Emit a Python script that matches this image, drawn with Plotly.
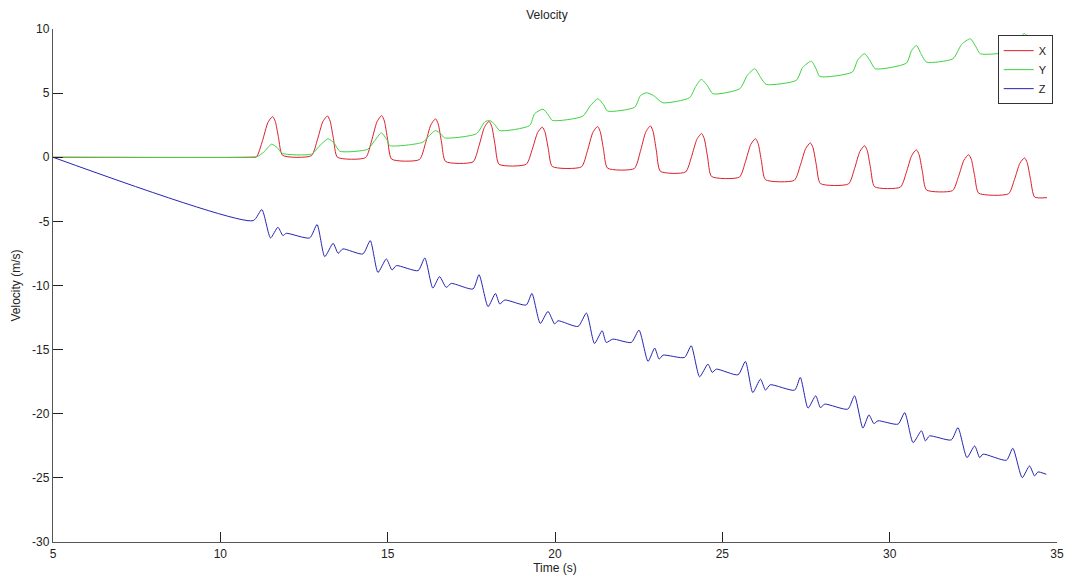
import plotly.graph_objects as go

# ---------------- data ----------------
x_time = [5, 10.90,
          11.08, 11.26, 11.42, 11.56, 11.64, 11.74, 11.86,
          12.72, 12.90, 13.06, 13.20, 13.28, 13.38, 13.50,
          14.34, 14.52, 14.68, 14.82, 14.90, 15.00, 15.12,
          15.95, 16.13, 16.29, 16.43, 16.51, 16.61, 16.73,
          17.55, 17.73, 17.89, 18.03, 18.11, 18.21, 18.33,
          19.14, 19.32, 19.48, 19.62, 19.70, 19.80, 19.92,
          20.79, 20.97, 21.13, 21.27, 21.35, 21.45, 21.57,
          22.37, 22.55, 22.71, 22.85, 22.93, 23.03, 23.15,
          23.90, 24.08, 24.24, 24.38, 24.46, 24.56, 24.68,
          25.51, 25.69, 25.85, 25.99, 26.07, 26.17, 26.29,
          27.15, 27.33, 27.49, 27.63, 27.71, 27.81, 27.93,
          28.77, 28.95, 29.11, 29.25, 29.33, 29.43, 29.55,
          30.32, 30.50, 30.66, 30.80, 30.88, 30.98, 31.10,
          31.88, 32.06, 32.22, 32.36, 32.44, 32.54, 32.66,
          33.55, 33.73, 33.89, 34.03, 34.11, 34.21, 34.33, 34.70]
x_vel = [0, 0,
         0.03, 1.29, 2.70, 3.17, 2.81, 1.51, 0.15,
         0.12, 1.36, 2.76, 3.22, 2.83, 1.45, 0.0,
         -0.03, 1.28, 2.76, 3.25, 2.84, 1.38, -0.15,
         -0.18, 1.09, 2.52, 3.00, 2.60, 1.17, -0.33,
         -0.36, 0.90, 2.33, 2.80, 2.40, 0.96, -0.55,
         -0.55, 0.61, 1.92, 2.35, 1.98, 0.66, -0.72,
         -0.75, 0.51, 1.93, 2.40, 2.01, 0.61, -0.85,
         -0.88, 0.45, 1.95, 2.45, 2.02, 0.50, -1.10,
         -1.15, 0.05, 1.40, 1.85, 1.45, 0.01, -1.50,
         -1.55, -0.35, 1.00, 1.45, 1.07, -0.31, -1.75,
         -1.80, -0.63, 0.68, 1.12, 0.74, -0.62, -2.05,
         -2.08, -0.89, 0.45, 0.90, 0.52, -0.86, -2.30,
         -2.33, -1.17, 0.14, 0.58, 0.20, -1.14, -2.55,
         -2.60, -1.48, -0.22, 0.20, -0.16, -1.45, -2.80,
         -2.85, -1.73, -0.47, -0.05, -0.42, -1.73, -3.10, -3.15]

y_time = [5, 10.85,
          11.10, 11.30, 11.53, 11.70, 11.85,
          12.73, 12.95, 13.22, 13.40, 13.57,
          14.40, 14.60, 14.81, 14.98, 15.06,
          16.05, 16.25, 16.43, 16.58, 16.70,
          17.65, 17.90, 18.05, 18.20, 18.35,
          19.24, 19.39, 19.64, 19.80, 19.92,
          20.83, 21.05, 21.28, 21.45, 21.57,
          22.38, 22.55, 22.73, 22.95, 23.22,
          24.02, 24.20, 24.37, 24.55, 24.72,
          25.52, 25.75, 25.97, 26.15, 26.31,
          27.21, 27.40, 27.66, 27.80, 27.91,
          28.88, 29.05, 29.25, 29.42, 29.57,
          30.50, 30.65, 30.80, 30.95, 31.10,
          31.89, 32.15, 32.41, 32.58, 32.71,
          33.66, 33.85, 34.03, 34.20, 34.33, 34.70]
y_vel = [0, 0,
         0.05, 0.4, 1.02, 0.75, 0.3,
         0.25, 0.85, 1.44, 1.1, 0.47,
         0.62, 1.25, 1.90, 1.35, 0.91,
         1.17, 1.7, 2.08, 1.85, 1.51,
         1.83, 2.75, 2.87, 2.55, 2.08,
         2.47, 3.39, 3.75, 3.3, 2.87,
         3.2, 4.0, 4.56, 4.1, 3.6,
         3.9, 4.8, 5.03, 4.8, 4.25,
         4.64, 5.5, 6.07, 5.6, 4.95,
         5.34, 6.4, 6.9, 6.2, 5.68,
         6.0, 7.0, 7.49, 6.9, 6.3,
         6.64, 7.6, 8.07, 7.5, 6.9,
         7.34, 8.3, 8.72, 8.0, 7.42,
         7.68, 8.8, 9.24, 8.6, 8.07,
         8.3, 9.2, 9.65, 9.0, 8.6, 8.7]

z_time = [5, 10.98,
          11.24, 11.50, 11.72, 11.87, 11.97, 12.67,
          12.89, 13.12, 13.37, 13.52, 13.66, 14.26,
          14.48, 14.71, 14.96, 15.13, 15.26, 15.91,
          16.11, 16.35, 16.55, 16.75, 16.90, 17.55,
          17.73, 18.00, 18.22, 18.35, 18.50, 19.14,
          19.31, 19.56, 19.79, 19.99, 20.09, 20.69,
          20.94, 21.18, 21.41, 21.53, 21.73, 22.28,
          22.51, 22.78, 22.98, 23.11, 23.23, 23.87,
          24.07, 24.32, 24.57, 24.70, 24.82, 25.47,
          25.69, 25.91, 26.14, 26.29, 26.43, 27.16,
          27.33, 27.56, 27.79, 27.93, 28.06, 28.75,
          28.95, 29.20, 29.38, 29.53, 29.65, 30.25,
          30.45, 30.70, 30.95, 31.07, 31.19, 31.84,
          32.04, 32.31, 32.54, 32.69, 32.79, 33.49,
          33.68, 33.96, 34.18, 34.33, 34.43, 34.68]
z_vel = [0, -4.94,
         -4.08, -6.29, -5.46, -6.11, -5.93, -6.29,
         -5.25, -7.75, -6.71, -7.49, -7.15, -7.54,
         -6.50, -8.98, -7.93, -8.79, -8.45, -8.84,
         -7.85, -10.2, -9.31, -10.15, -9.84, -10.27,
         -9.16, -11.65, -10.62, -11.44, -11.13, -11.52,
         -10.62, -12.96, -12.02, -13.0, -12.75, -13.19,
         -12.15, -14.52, -13.53, -14.44, -14.18, -14.44,
         -13.48, -15.92, -14.88, -15.74, -15.43, -15.61,
         -14.70, -17.12, -16.13, -16.78, -16.52, -16.96,
         -15.92, -18.35, -17.30, -18.16, -17.74, -18.16,
         -17.17, -19.56, -18.6, -19.52, -19.25, -19.64,
         -18.60, -21.12, -20.09, -20.77, -20.55, -20.81,
         -19.91, -22.25, -21.33, -22.12, -21.73, -22.04,
         -21.08, -23.42, -22.51, -23.42, -23.15, -23.62,
         -22.69, -24.98, -24.07, -24.85, -24.54, -24.72]

series_names = ["X", "Y", "Z"]
x_ticks = [5, 10, 15, 20, 25, 30, 35]
x_tick_labels = ["5", "10", "15", "20", "25", "30", "35"]
y_ticks = [10, 5, 0, -5, -10, -15, -20, -25, -30]
y_tick_labels = ["10", "5", "0", "-5", "-10", "-15", "-20", "-25", "-30"]

# ---------------- figure ----------------
colors = ["#dc1f2b", "#3fd23f", "#2424b4"]
FONT = "Liberation Sans, Arial, Helvetica, sans-serif"
W, H = 1069, 579

fig = go.Figure()
for name, t, v, c in zip(series_names,
                         [x_time, y_time, z_time],
                         [x_vel, y_vel, z_vel], colors):
    fig.add_trace(go.Scatter(x=t, y=v, mode="lines", name=name,
                             line=dict(color=c, width=1,
                                       shape="spline", smoothing=0.6)))

axis_common = dict(showgrid=False, zeroline=False, showline=True,
                   linecolor="#555555", linewidth=1.3, ticks="inside",
                   ticklen=10, tickcolor="#222222", tickwidth=1,
                   mirror=False, automargin=False,
                   tickfont=dict(family=FONT, size=12, color="#222222"))

fig.update_layout(
    width=W, height=H,
    margin=dict(l=53, r=12, t=29, b=37, autoexpand=False),
    paper_bgcolor="white", plot_bgcolor="white",
    font=dict(family=FONT, size=12, color="#222222"),
    title=dict(text="Velocity", x=0.492, xref="paper", xanchor="center",
               y=1 - 15 / H, yref="container", yanchor="middle",
               font=dict(family=FONT, size=12, color="#222222")),
    xaxis=dict(range=[5, 35], tickvals=x_ticks, ticktext=x_tick_labels,
               title=dict(text="Time (s)", standoff=4,
                          font=dict(family=FONT, size=12)),
               **axis_common),
    yaxis=dict(range=[-30, 10], tickvals=y_ticks, ticktext=y_tick_labels,
               title=dict(text="Velocity (m/s)", standoff=8,
                          font=dict(family=FONT, size=12)),
               **axis_common),
    legend=dict(x=0.9957, xanchor="right", y=0.988, yanchor="top",
                bgcolor="white", bordercolor="#333333", borderwidth=1,
                font=dict(family=FONT, size=11, color="#222222"),
                tracegroupgap=0, itemwidth=30),
    showlegend=True,
)

# remove the default page margin so the figure sits at the window's corner
fig.write_html(
    "out.html",
    config={"displayModeBar": False},
    post_script="document.body.style.margin='0';"
                "document.documentElement.style.overflow='hidden';"
                "document.body.style.overflow='hidden';",
)
